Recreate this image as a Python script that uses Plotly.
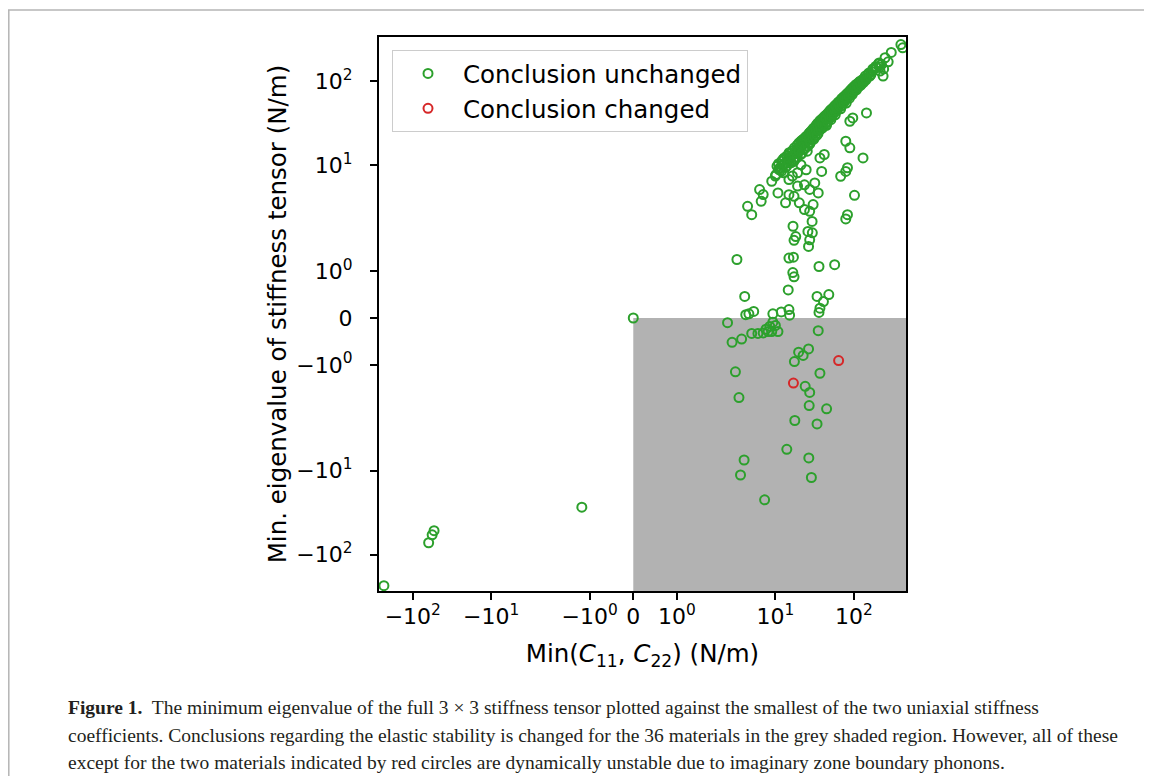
import numpy as np
import plotly.graph_objects as go

# ---------------- data (N/m) ----------------
# Conclusion unchanged (green)
x_unchanged = [
    -233, -62.7, -56.6, -53.5, -1.18, 0.0,
    2.46, 2.81, 3.72, 5.0, 6.0, 7.0, 7.6, 8.5, 9.3, 10, 10.8, 9.0, 8.1, 35.2, 26.5, 19.8,
    22.6, 17.5, 3.1, 37, 24, 27.4, 3.44, 27, 45, 17.7, 34, 14, 26.7, 4.0, 3.6, 28.8, 7.3,
    4.2, 4.6, 5.3, 9.3, 11.9, 14.9, 15.2, 36, 37, 41, 34, 48, 4.07, 14.6, 16.7, 17.3, 3.24,
    36, 57, 14.9, 17, 17.3, 18.2, 16.8, 26, 29.6, 27.4, 26.5, 29.4,
    79, 83, 102, 68, 79, 83, 131, 89, 79, 89, 97, 145,
    4.43, 5.0, 6.3, 7, 6.6, 9, 10.2, 10.8, 13.5, 20.2, 23.5, 27.4, 30.3, 35.2, 38.9, 14.9,
    17.3, 19.2, 23.5, 27.4, 31.8, 37, 42, 14.9, 12.8, 11.5, 14.2, 17.3, 21.2, 24.7, 19.2,
    16.5, 21.2,
    398, 420, 274, 213, 240, 216, 236,
    10.5, 11, 11.5, 12, 12.5, 13, 13.5, 14, 14.5, 15, 15.5, 16, 16.5, 17, 17.5, 18, 18.5,
    19, 19.5, 20, 20.5, 21, 21.5, 22, 22.5, 23, 23.5, 24, 24.5, 25, 25.5, 26, 26.5, 27,
    27.5, 28, 28.5, 29, 30, 30.5, 31, 32, 32.5, 33, 34, 34.5, 35, 36, 36.5, 37, 38, 39,
    40, 40.5, 41, 42, 43, 44, 45, 46, 47, 48, 49, 50, 51, 52, 53, 54, 56, 57, 58, 60, 62,
    63, 65, 66, 68, 70, 72, 74, 76, 78, 80, 82, 84, 86, 88, 90, 93, 95, 98, 100, 103, 106,
    110, 113, 117, 120, 125, 130, 135, 140, 147, 155, 165, 175, 190, 205,
    10, 11, 12, 12.5, 13, 14, 15, 15.5, 16, 17, 18, 19, 20, 21, 22, 23, 24, 25, 26, 27, 28,
    29, 30, 31, 32, 33, 34, 35, 36, 37, 38, 39, 40, 42, 43, 44, 46, 47, 49, 50, 52, 53, 55,
    56, 58, 59, 61, 64, 67, 69, 71, 73, 75, 77, 81, 85, 87, 91, 94, 96, 99, 104, 108, 111,
    115, 118, 123, 128, 132, 138, 143, 150, 160, 170, 180, 195, 210, 225, 250, 300,
]
y_unchanged = [
    -233, -72, -58, -51.7, -27.2, 0.0,
    -0.10, -0.52, -0.45, -0.33, -0.33, -0.32, -0.24, -0.18, -0.09, -0.16, -0.29, -0.29,
    -0.29, -0.27, -0.66, -0.73, -0.80, -0.93, -1.15, -1.18, -1.46, -1.59, -1.70, -1.87,
    -1.94, -2.55, -2.8, -5.6, -7.1, -7.5, -11.3, -12.1, -22.3,
    0.07, 0.09, 0.14, 0.09, 0.13, 0.18, 0.06, 0.12, 0.21, 0.35, 0.46, 0.50, 0.46, 0.60,
    0.97, 0.88, 1.25, 1.10, 1.14, 1.28, 1.30, 1.66, 1.74, 1.96, 1.85, 1.82, 1.67, 1.53, 2.17,
    2.32, 2.61, 4.43, 7.45, 8.5, 9.4, 12.3, 16.2, 19.4, 33.5, 36.7, 42,
    3.28, 2.61, 5.18, 4.52, 3.76, 6.5, 7.8, 4.73, 3.6, 3.6, 3.0, 2.86, 3.44, 4.73, 8.5, 4.5,
    4.3, 5.7, 5.9, 5.2, 6.2, 12.3, 13.5, 6.8, 8.2, 9.4, 10.7, 11.2, 10.2, 8.9, 8.2,
    7.5, 19.4,
    272, 249, 170, 148, 140, 132, 115,
    9.8, 10.5, 8.8, 11.2, 10, 12.3, 9.5, 13, 11.8, 14.2, 12.5, 10.8, 15, 13.6, 16.2, 12,
    15.5, 17.4, 14.2, 18.5, 16, 13.5, 19.6, 17.2, 20.4, 15.8, 21, 18.8, 22, 19.5, 14.8, 23,
    21, 24.2, 18, 25, 22.5, 26, 23.8, 27.5, 20.5, 28.6, 25.5, 30, 27, 31.5, 24, 32.5, 29,
    34, 31, 35.5, 28, 36.5, 33, 38, 35, 39.5, 30, 41, 37, 43, 40, 45, 35, 46.5, 42, 48, 45,
    51, 40, 53, 48, 56, 52, 58, 47, 62, 57, 65, 60, 68, 55, 71, 66, 74, 63, 78, 72, 82, 75,
    86, 80, 91, 84, 95, 88, 100, 94, 105, 100, 115, 110, 125, 120, 140, 150, 160,
    7.5, 9, 8.6, 11.8, 10.6, 9.8, 11, 14, 13, 11.5, 14.5, 12.5, 15, 17.5, 14, 19, 16, 21.5,
    17, 20, 19, 23.5, 21, 25, 22, 26.5, 23, 29, 26, 30, 27, 32, 31, 34, 30, 36, 33, 40, 36,
    42, 38, 44, 41, 48, 44, 50, 45, 53, 50, 58, 52, 61, 56, 64, 62, 70, 66, 72, 77, 70, 81,
    84, 79, 90, 86, 96, 90, 102, 96, 108, 104, 118, 115, 130, 138, 145, 165, 158, 190, 220,
]
# Conclusion changed (red)
x_changed = [64, 17]
y_changed = [-0.91, -1.39]

tick_values = [-100, -10, -1, 0, 1, 10, 100]
tick_labels = ["\u221210<sup>2</sup>", "\u221210<sup>1</sup>", "\u221210<sup>0</sup>", "0",
               "10<sup>0</sup>", "10<sup>1</sup>", "10<sup>2</sup>"]

caption_lines = [
    "<b>Figure 1.</b>  The minimum eigenvalue of the full 3 \u00d7 3 stiffness tensor plotted against the smallest of the two uniaxial stiffness",
    "coefficients. Conclusions regarding the elastic stability is changed for the 36 materials in the grey shaded region. However, all of these",
    "except for the two materials indicated by red circles are dynamically unstable due to imaginary zone boundary phonons.",
]

# ---------------- symlog scale (linthresh=2, linscale=1) ----------------
LINTHRESH = 2.0
LINSCALE_ADJ = 1.0 / (1.0 - 1.0 / 10.0)


def symlog(v):
    v = np.asarray(v, dtype=float)
    a = np.abs(v)
    logpart = np.sign(v) * LINTHRESH * (LINSCALE_ADJ + np.log10(np.maximum(a, 1e-12) / LINTHRESH))
    return np.where(a <= LINTHRESH, v * LINSCALE_ADJ, logpart)


XR = [-6.48, 6.95]
YR = [-6.48, 6.67]

OFF = 8  # page body margin
W, H = 1144, 768
ML, MT = 379 - OFF, 37 - OFF
PW, PH = 527, 554
MR, MB = W - ML - PW, H - MT - PH


def px2paper_x(px):  # page px -> paper
    return (px - OFF - ML) / PW


def px2paper_y(py):
    return 1 - (py - OFF - MT) / PH


GREEN = "#2ca02c"
RED = "#d62728"
FONT = "DejaVu Sans"

fig = go.Figure()
fig.add_trace(go.Scatter(
    x=symlog(x_unchanged), y=symlog(y_unchanged), mode="markers",
    name="Conclusion unchanged",
    marker=dict(symbol="circle-open", size=9, color=GREEN, line=dict(width=2, color=GREEN)),
))
fig.add_trace(go.Scatter(
    x=symlog(x_changed), y=symlog(y_changed), mode="markers",
    name="Conclusion changed",
    marker=dict(symbol="circle-open", size=9, color=RED, line=dict(width=2, color=RED)),
))

# grey shaded region x>=0, y<=0
fig.add_shape(type="rect", xref="x", yref="y", x0=float(symlog(0)), x1=XR[1], y0=YR[0],
              y1=float(symlog(0)), fillcolor="#b2b2b2", line=dict(width=0), layer="below")

# figure frame (left & top)
fig.add_shape(type="line", xref="paper", yref="paper", x0=px2paper_x(8.8), x1=px2paper_x(8.8),
              y0=px2paper_y(10), y1=px2paper_y(OFF + H), line=dict(color="#b4b4b4", width=1.5))
fig.add_shape(type="line", xref="paper", yref="paper", x0=px2paper_x(8), x1=px2paper_x(OFF + W),
              y0=px2paper_y(10), y1=px2paper_y(10), line=dict(color="#b4b4b4", width=1.5))

for line, yy in zip(caption_lines, [707, 735, 762]):
    fig.add_annotation(text=line, xref="paper", yref="paper", x=px2paper_x(66), y=px2paper_y(yy),
                       xanchor="left", yanchor="middle", showarrow=False,
                       font=dict(family="Liberation Serif", size=19.5, color="#231f20"))

axis_common = dict(
    showline=True, linecolor="black", linewidth=2, mirror=True,
    ticks="outside", ticklen=7, tickwidth=1.5, tickcolor="black",
    showgrid=False, zeroline=False, tickmode="array",
    tickvals=list(symlog(tick_values)), ticktext=tick_labels,
    tickfont=dict(family=FONT, size=22, color="black"),
)

fig.update_layout(
    width=W, height=H,
    margin=dict(l=ML, r=MR, t=MT, b=MB),
    paper_bgcolor="white", plot_bgcolor="white",
    font=dict(family=FONT, color="black"),
    xaxis=dict(range=XR, title=dict(text="Min(<i>C</i><sub>11</sub>, <i>C</i><sub>22</sub>) (N/m)",
                                    font=dict(family=FONT, size=24.5), standoff=16),
               ticklabelstandoff=-2, **axis_common),
    yaxis=dict(range=YR, title=dict(text="Min. eigenvalue of stiffness tensor (N/m)",
                                    font=dict(family=FONT, size=24.5), standoff=3),
               ticklabelstandoff=13, **axis_common),
    showlegend=True,
    legend=dict(x=px2paper_x(392), y=px2paper_y(50), xanchor="left", yanchor="top",
                bgcolor="rgba(255,255,255,0.8)", bordercolor="#cccccc", borderwidth=1,
                font=dict(family=FONT, size=24.5, color="black"), itemwidth=60),
)

fig.write_html("out.html")
